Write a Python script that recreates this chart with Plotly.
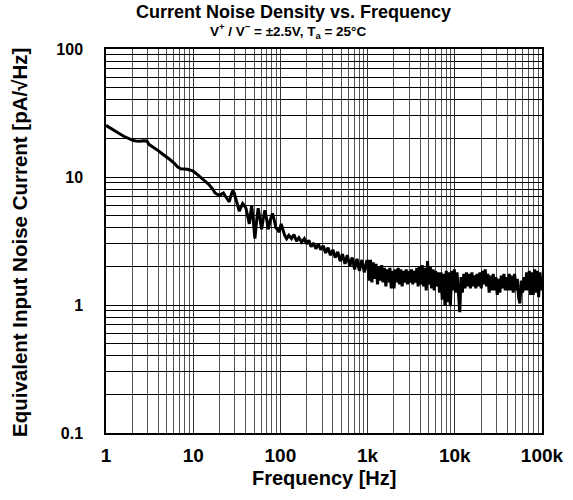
import plotly.graph_objects as go

# ---------------- data ----------------
freq_1_10 = [1.0, 1.1, 1.25, 1.4, 1.6, 1.8, 2.0, 2.2, 2.45, 2.7, 2.95, 3.1, 3.3,
             3.6, 4.0, 4.4, 4.9, 5.4, 6.0, 6.6, 7.2, 7.9, 8.6, 9.3]
noise_1_10 = [25.3, 24.4, 23.1, 22.0, 20.8, 19.9, 19.4, 19.1, 19.0, 19.2, 19.1, 18.0, 17.5,
              17.0, 16.0, 15.2, 14.5, 13.7, 12.9, 12.0, 11.6, 11.6, 11.5, 11.3]

freq_10_100 = [10, 11.3, 12.5, 13.8, 15.2, 16.6, 17.8, 19.0, 20.3, 21.3, 22.2, 23.3, 24.3,
               25.2, 25.9, 27.0, 28.3, 29.5, 30.9, 32.3, 33.8, 35.3, 36.9, 38.5, 40.3,
               42.0, 44.0, 45.5, 46.8, 48.8, 51.0, 53.3, 55.6, 58.0, 60.9, 63.5, 66.5,
               69.5, 72.6, 76.5, 81.0, 85.0, 88.9, 93.0, 97.0]
noise_10_100 = [11.1, 10.4, 9.8, 9.3, 8.7, 8.1, 7.5, 7.3, 7.2, 7.4, 7.5, 7.1, 6.8,
                6.5, 6.4, 7.1, 7.8, 7.5, 6.8, 6.0, 5.4, 5.8, 6.2, 6.0, 5.7,
                5.0, 4.3, 5.2, 6.0, 4.6, 3.3, 4.5, 5.7, 4.8, 3.9, 4.7, 5.5,
                4.7, 3.9, 4.6, 5.2, 4.6, 4.0, 3.9, 3.7]

freq_100_1k = [102, 106, 112, 118, 125, 134, 143, 153, 163, 175, 188, 200, 212, 225,
               240, 255, 272, 290, 310, 330, 352, 375, 400, 425, 455, 485, 515, 550,
               585, 625, 665, 710, 755, 805, 860, 915, 975]
noise_100_1k = [4.3, 3.9, 3.5, 3.3, 3.5, 3.3, 3.55, 3.15, 3.35, 3.1, 3.3, 3.0, 3.2, 2.85,
                3.05, 2.75, 3.0, 2.7, 2.9, 2.55, 2.8, 2.45, 2.7, 2.35, 2.6, 2.2, 2.5, 2.1,
                2.45, 2.0, 2.35, 1.9, 2.3, 1.85, 2.25, 1.8, 2.2]

freq_1k_10k = [1000, 1040, 1080, 1120, 1160, 1200, 1250, 1300, 1350, 1400, 1450, 1500,
               1560, 1620, 1680, 1740, 1800, 1870, 1940, 2010, 2080, 2160, 2240, 2320,
               2400, 2490, 2580, 2670, 2770, 2870, 2970, 3080, 3190, 3300, 3420, 3540,
               3670, 3800, 3940, 4080, 4230, 4380, 4540, 4700, 4870, 5050, 5230, 5420,
               5610, 5810, 6020, 6240, 6460, 6690, 6930, 7180, 7440, 7710, 7990, 8280,
               8580, 8890, 9210, 9540, 9880]
noise_1k_10k = [2.2, 1.55, 2.25, 1.5, 2.15, 1.6, 2.1, 1.45, 2.0, 1.55, 2.05, 1.5,
                1.95, 1.4, 1.9, 1.5, 1.95, 1.35, 1.85, 1.35, 1.9, 1.5, 1.95, 1.45,
                1.9, 1.4, 1.85, 1.5, 1.9, 1.45, 1.85, 1.5, 1.9, 1.45, 1.85, 1.5,
                1.95, 1.4, 2.0, 1.45, 2.05, 1.4, 1.95, 1.3, 2.2, 1.45, 2.0, 1.35,
                1.9, 1.3, 1.85, 1.4, 1.8, 1.25, 1.8, 1.1, 1.75, 1.0, 1.85, 1.05,
                1.8, 0.98, 1.85, 1.3, 1.9]

freq_10k_100k = [10200, 10600, 11000, 11400, 11800, 12200, 12700, 13100, 13600, 14100,
                 14600, 15100, 15700, 16200, 16800, 17400, 18000, 18700, 19400, 20100,
                 20800, 21500, 22300, 23100, 23900, 24800, 25700, 26600, 27600, 28600,
                 29600, 30700, 31800, 32900, 34100, 35300, 36600, 37900, 39300, 40700,
                 42100, 43600, 45200, 46800, 48500, 50200, 52000, 53900, 55800, 57800,
                 59900, 62000, 64300, 66600, 69000, 71500, 74000, 76700, 79400, 82300,
                 85200, 88300, 91500, 94800, 98200, 100000]
noise_10k_100k = [1.25, 1.8, 1.15, 0.88, 1.65, 1.25, 1.75, 1.35, 1.8, 1.4,
                  1.75, 1.35, 1.8, 1.4, 1.7, 1.35, 1.75, 1.4, 1.8, 1.35,
                  1.85, 1.45, 1.9, 1.4, 1.75, 1.25, 1.7, 1.3, 1.75, 1.3,
                  1.65, 1.2, 1.6, 1.25, 1.7, 1.35, 1.75, 1.3, 1.65, 1.3,
                  1.75, 1.3, 1.7, 1.25, 1.75, 1.3, 1.6, 1.15, 1.03, 1.55,
                  1.25, 1.65, 1.3, 1.8, 1.3, 1.85, 1.2, 1.8, 1.2, 1.9,
                  1.25, 1.85, 1.15, 1.8, 1.3, 1.65]

x_tick_vals = [1, 10, 100, 1000, 10000, 100000]
x_tick_text = ["1", "10", "100", "1k", "10k", "100k"]
y_tick_vals = [0.1, 1, 10, 100]
y_tick_text = ["0.1", "1", "10", "100"]

title_text = "Current Noise Density vs. Frequency"
subtitle_text = "V<sup>+</sup> / V<sup>−</sup> = ±2.5V, T<sub>a</sub> = 25°C"
x_title = "Frequency [Hz]"
y_title = "Equivalent Input Noise Current [pA/√Hz]"

segments = [(freq_1_10, noise_1_10), (freq_10_100, noise_10_100),
            (freq_100_1k, noise_100_1k), (freq_1k_10k, noise_1k_10k),
            (freq_10k_100k, noise_10k_100k)]
freq, noise = [], []
for f, v in segments:
    assert len(f) == len(v), (len(f), len(v))
    freq += f
    noise += v

FONT = "Liberation Sans, Arial, sans-serif"

fig = go.Figure()
fig.add_trace(go.Scatter(x=freq, y=noise, mode="lines",
                         line=dict(color="black", width=3),
                         hoverinfo="skip", showlegend=False))

fig.update_layout(
    width=573, height=500,
    margin=dict(l=106, r=31, t=49, b=67),
    paper_bgcolor="white", plot_bgcolor="white",
    font=dict(family=FONT, color="black"),
    showlegend=False,
)

fig.update_xaxes(
    type="log", range=[0, 5],
    tickvals=x_tick_vals, ticktext=x_tick_text,
    tickfont=dict(size=19, family=FONT, color="black", weight="bold"),
    ticks="", ticklabelstandoff=4, automargin=False,
    showgrid=True, gridcolor="#333333", gridwidth=1,
    minor=dict(dtick="D1", showgrid=True, gridcolor="#555555", gridwidth=1, ticks=""),
    showline=True, linecolor="black", linewidth=1.5, mirror=True,
    zeroline=False,
)
fig.update_yaxes(
    type="log", range=[-1, 2],
    tickvals=y_tick_vals, ticktext=y_tick_text,
    tickfont=dict(size=16, family=FONT, color="black", weight="bold"),
    ticks="", ticklabelstandoff=18, automargin=False,
    showgrid=True, gridcolor="black", gridwidth=1,
    minor=dict(dtick="D1", showgrid=True, gridcolor="black", gridwidth=1, ticks=""),
    showline=True, linecolor="black", linewidth=1.5, mirror=True,
    zeroline=False,
)

annots = [
    dict(text="<b>" + title_text + "</b>", x=0.431, y=1.097, font=dict(size=18)),
    dict(text="<b>" + subtitle_text + "</b>", x=0.417, y=1.048, font=dict(size=13.5)),
    dict(text="<b>" + x_title + "</b>", x=0.5, y=-0.117, font=dict(size=20)),
    dict(text="<b>" + y_title + "</b>", x=-0.197, y=0.495, font=dict(size=20.5),
         textangle=-90),
]
for a in annots:
    a.update(xref="paper", yref="paper", showarrow=False,
             xanchor="center", yanchor="middle")
    a["font"].update(family=FONT, color="black")
    fig.add_annotation(**a)

# remove the browser's default 8 px page margin so the figure sits at the window corner
fig.write_html("out.html", config={"displayModeBar": False},
               post_script="document.body.style.margin='0';")
